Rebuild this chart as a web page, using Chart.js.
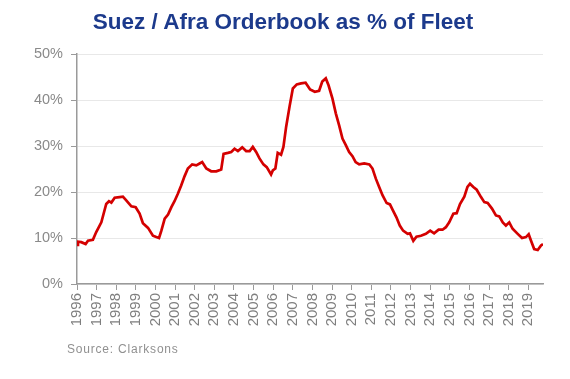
<!DOCTYPE html>
<html>
<head>
<meta charset="utf-8">
<script src="https://cdn.jsdelivr.net/npm/chart.js@4.4.1/dist/chart.umd.min.js"></script>
<style>
  html, body { margin: 0; padding: 0; background: #ffffff; }
  #wrap { position: relative; width: 570px; height: 379px; overflow: hidden; }
  #title { position: absolute; left: 0; top: 9px; width: 566px; text-align: center;
           font: bold 22.5px "Liberation Sans", Arial, sans-serif; color: #1c3a8c; line-height: 26px; }
  #source { position: absolute; left: 67px; top: 342px; font: 12px "Liberation Sans", Arial, sans-serif;
            color: #909090; letter-spacing: 0.8px; }
  canvas { position: absolute; left: 0; top: 0; }
</style>
</head>
<body>
<div id="wrap">
  <canvas id="c" width="570" height="379"></canvas>
  <div id="title">Suez / Afra Orderbook as % of Fleet</div>
  <div id="source">Source: Clarksons</div>
</div>
<script>
const years = [
  1996.0, 1996.05, 1996.22, 1996.44, 1996.56, 1996.81, 1996.98, 1997.24, 1997.49, 1997.63,
  1997.75, 1997.92, 1998.17, 1998.34, 1998.51, 1998.77, 1998.99, 1999.19, 1999.36, 1999.62,
  1999.87, 2000.04, 2000.18, 2000.3, 2000.47, 2000.64, 2000.81, 2000.97, 2001.14, 2001.31,
  2001.48, 2001.65, 2001.87, 2002.08, 2002.25, 2002.38, 2002.59, 2002.84, 2003.1, 2003.35,
  2003.47, 2003.69, 2003.86, 2004.03, 2004.2, 2004.42, 2004.62, 2004.8, 2004.96, 2005.13,
  2005.3, 2005.5, 2005.67, 2005.89, 2005.98, 2006.11, 2006.23, 2006.4, 2006.52, 2006.66,
  2006.83, 2007.0, 2007.2, 2007.42, 2007.65, 2007.88, 2008.12, 2008.34, 2008.5, 2008.68,
  2008.82, 2009.02, 2009.19, 2009.36, 2009.53, 2009.7, 2009.87, 2010.04, 2010.2, 2010.38,
  2010.64, 2010.9, 2011.06, 2011.23, 2011.4, 2011.57, 2011.78, 2011.95, 2012.1, 2012.28,
  2012.45, 2012.62, 2012.85, 2012.97, 2013.14, 2013.3, 2013.53, 2013.78, 2014.0, 2014.2,
  2014.43, 2014.63, 2014.8, 2014.97, 2015.18, 2015.35, 2015.52, 2015.74, 2015.9, 2016.03,
  2016.2, 2016.37, 2016.59, 2016.76, 2016.93, 2017.15, 2017.35, 2017.52, 2017.7, 2017.86,
  2018.03, 2018.2, 2018.46, 2018.68, 2018.88, 2019.02, 2019.14, 2019.3, 2019.48, 2019.65,
  2019.75
];
const orderbookPct = [
  8.5, 9.2, 9.1, 8.7, 9.4, 9.6, 11.3, 13.4, 17.4, 18.0,
  17.7, 18.75, 18.9, 19.0, 18.2, 16.9, 16.7, 15.3, 13.2, 12.2,
  10.5, 10.2, 10.0, 11.6, 14.2, 15.1, 16.7, 18.0, 19.6, 21.4,
  23.4, 25.1, 26.0, 25.8, 26.2, 26.5, 25.1, 24.5, 24.5, 24.9,
  28.3, 28.5, 28.7, 29.4, 28.9, 29.7, 28.9, 28.9, 29.8, 28.7,
  27.3, 26.0, 25.4, 23.8, 24.7, 25.1, 28.5, 28.1, 29.8, 34.2,
  38.5, 42.5, 43.4, 43.6, 43.75, 42.3, 41.8, 42.0, 44.0, 44.7,
  43.2, 40.3, 37.1, 34.5, 31.6, 30.2, 28.7, 27.8, 26.5, 26.0,
  26.2, 26.0, 25.1, 22.9, 21.1, 19.3, 17.6, 17.3, 16.0, 14.5,
  12.7, 11.6, 10.9, 11.0, 9.4, 10.3, 10.5, 10.9, 11.6, 11.0,
  11.8, 11.8, 12.35, 13.4, 15.3, 15.4, 17.4, 19.0, 21.1, 21.8,
  21.1, 20.5, 18.9, 17.8, 17.6, 16.4, 14.9, 14.7, 13.4, 12.7,
  13.4, 12.0, 10.9, 10.0, 10.2, 10.8, 9.4, 7.6, 7.4, 8.4,
  8.7
];
const yTicks = [0, 10, 20, 30, 40, 50];
const xRange = [1996, 2019.75];

const points = years.map((x, i) => ({ x: x, y: orderbookPct[i] }));

new Chart(document.getElementById('c'), {
  type: 'line',
  data: {
    datasets: [{
      data: points,
      borderColor: '#d40000',
      borderWidth: 2.7,
      pointRadius: 0,
      tension: 0,
      fill: false
    }]
  },
  options: {
    responsive: false,
    animation: false,
    layout: { padding: { left: 32, right: 27, top: 54, bottom: 40 } },
    plugins: { legend: { display: false }, tooltip: { enabled: false }, title: { display: false } },
    scales: {
      x: {
        type: 'linear',
        min: xRange[0],
        max: xRange[1],
        afterFit: s => { s.height = 55; },
        grid: { drawOnChartArea: false, drawTicks: true, tickLength: 6, tickColor: '#9a9a9a' },
        border: { display: true, color: '#9a9a9a', width: 1.5 },
        ticks: {
          stepSize: 1,
          includeBounds: false,
          autoSkip: false,
          maxRotation: 90,
          minRotation: 90,
          padding: 3,
          color: '#7f7f7f',
          font: { family: '"Liberation Sans", Arial, sans-serif', size: 15 },
          callback: v => String(v)
        }
      },
      y: {
        min: yTicks[0],
        max: yTicks[yTicks.length - 1],
        afterFit: s => { s.width = 45; },
        afterBuildTicks: s => { s.ticks = yTicks.map(v => ({ value: v })); },
        grid: { color: '#e8e8e8', lineWidth: 1, drawTicks: true, tickLength: 6, tickColor: '#9a9a9a' },
        border: { display: true, color: '#9a9a9a', width: 1.5 },
        ticks: {
          padding: 8,
          color: '#8a8a8a',
          font: { family: '"Liberation Sans", Arial, sans-serif', size: 14.5 },
          callback: v => v + '%'
        }
      }
    }
  }
});
</script>
</body>
</html>
